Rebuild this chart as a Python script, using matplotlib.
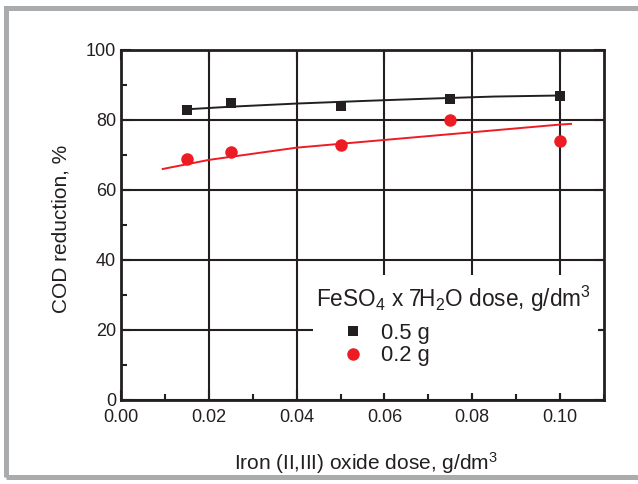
import numpy as np
import matplotlib
matplotlib.use("Agg")
import matplotlib.pyplot as plt
from matplotlib.patches import Rectangle
from matplotlib.ticker import MultipleLocator

plt.rcParams['font.family'] = ['Liberation Sans', 'DejaVu Sans']
plt.rcParams['mathtext.fontset'] = 'custom'
plt.rcParams['mathtext.rm'] = 'Liberation Sans'
plt.rcParams['mathtext.it'] = 'Liberation Sans'

# measured points
dose = [0.015, 0.025, 0.05, 0.075, 0.10]
cod_05 = [83, 85, 84, 86, 87]
cod_02 = [69, 71, 73, 80, 74]

# trend lines
fit_05_x = [0.0155, 0.025, 0.04, 0.0565, 0.07, 0.085, 0.10]
fit_05_y = [83.1, 83.8, 84.7, 85.5, 86.1, 86.7, 87.0]
fit_02_x = [0.0095, 0.02, 0.04, 0.06, 0.08, 0.10, 0.1025]
fit_02_y = [66.0, 68.6, 72.1, 74.3, 76.5, 78.7, 78.9]

ink = '#231f20'
red = '#ed1c24'

fig = plt.figure(figsize=(6.38, 4.84), dpi=100)
# grey page frame
fig.patches.append(Rectangle((6 / 638, 7 / 484), 1.0, 469 / 484, transform=fig.transFigure,
                             fill=False, edgecolor='#aaabad', linewidth=3.6))
ax = fig.add_axes([121 / 638, 1 - 400 / 484, (604 - 121) / 638, 350 / 484])

ax.plot(fit_05_x, fit_05_y, color=ink, lw=1.4, zorder=3)
ax.plot(fit_02_x, fit_02_y, color=red, lw=1.4, zorder=3)
ax.plot(dose, cod_05, 's', color=ink, ms=7.8, mew=0, label='0.5 g', zorder=4)
ax.plot(dose, cod_02, 'o', color=red, ms=9, mew=0, label='0.2 g', zorder=4)

ax.set_xlim(0, 0.11)
ax.set_ylim(0, 100)
ax.set_xticks(np.arange(0, 0.101, 0.02))
ax.set_xticklabels(['0.00', '0.02', '0.04', '0.06', '0.08', '0.10'])
ax.set_yticks(np.arange(0, 101, 20))
ax.xaxis.set_minor_locator(MultipleLocator(0.01))
ax.yaxis.set_minor_locator(MultipleLocator(10))
ax.grid(True, which='major', color=ink, lw=1.5)
ax.set_axisbelow(True)
ax.tick_params(which='major', direction='in', length=7, width=1.5, labelsize=13,
               top=True, right=True, color=ink, labelcolor=ink)
ax.tick_params(axis='x', which='major', pad=6.5)
ax.tick_params(axis='y', which='major', pad=3.5)
ax.tick_params(which='minor', direction='in', length=4, width=1.5, color=ink)
for s in ax.spines.values():
    s.set_linewidth(2)
    s.set_color(ink)

ax.set_xlabel('Iron (II,III) oxide dose, g/dm$^3$', fontsize=15, color=ink)
ax.set_ylabel('COD reduction, %', fontsize=15, color=ink)
ax.xaxis.set_label_coords(0.508, -0.143)
ax.yaxis.set_label_coords(-0.104, 0.49)

# white panel behind the legend hides the grid
ax.add_patch(Rectangle((0.397, 0.02), 0.591, 0.337, transform=ax.transAxes,
                       facecolor='white', edgecolor='none', zorder=1))
ax.text(0.404, 0.266, 'FeSO$_4$ x 7H$_2$O dose, g/dm$^3$', transform=ax.transAxes,
        fontsize=16.3, color=ink, ha='left', va='baseline', zorder=5)
leg = ax.legend(loc='center left', bbox_to_anchor=(0.459, 0.1586), frameon=False,
                fontsize=15.8, borderpad=0, borderaxespad=0, handlelength=0.95,
                handletextpad=0.8, labelspacing=0.08)
for t in leg.get_texts():
    t.set_color(ink)

fig.savefig('out.png', dpi=100)
